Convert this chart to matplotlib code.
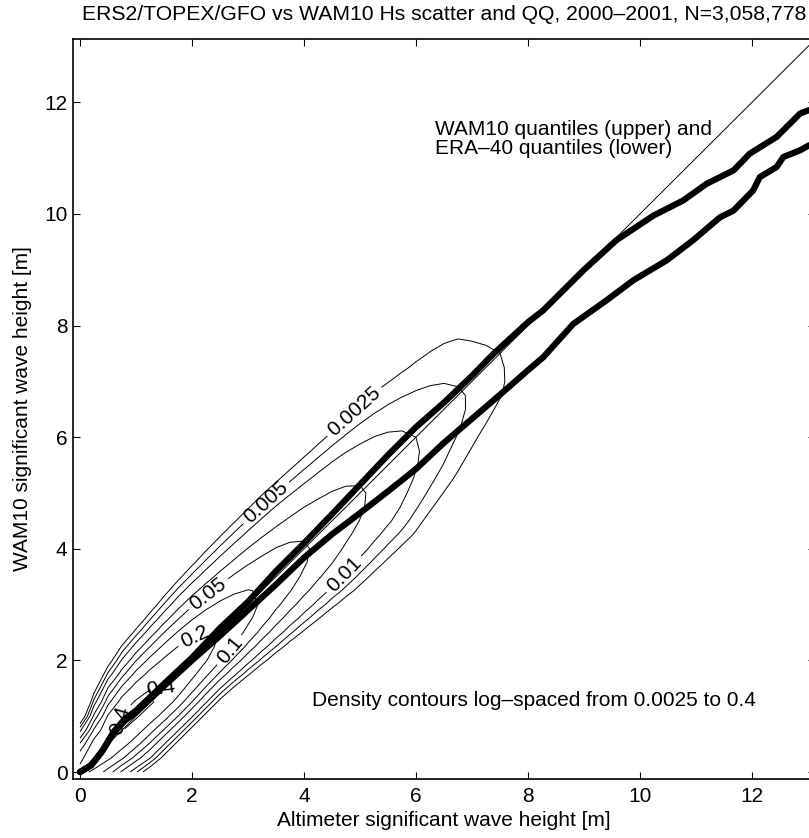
import numpy as np
import matplotlib
matplotlib.use('Agg')
import matplotlib.pyplot as plt

plt.rcParams['font.family'] = ['Liberation Sans', 'DejaVu Sans']
plt.rcParams['font.size'] = 15

# Quantile-quantile curves: altimeter Hs vs model Hs [m]
wam_alt = [0.0, 0.2, 0.4, 0.6, 0.8, 1.0, 1.5, 2.0, 2.5, 3.0, 3.5, 4.0, 4.5, 5.0, 5.5, 6.0,
           6.5, 7.0, 7.38, 8.0, 8.27, 8.5, 8.99, 9.58, 10.24, 10.77, 11.19, 11.67, 11.96,
           12.44, 12.86, 13.02]
wam_mod = [0.0, 0.12, 0.38, 0.72, 0.95, 1.1, 1.58, 2.05, 2.58, 3.05, 3.6, 4.1, 4.62, 5.15,
           5.68, 6.18, 6.62, 7.1, 7.49, 8.06, 8.27, 8.5, 8.99, 9.53, 9.97, 10.24, 10.54,
           10.78, 11.08, 11.38, 11.80, 11.86]

era_alt = [0.0, 0.2, 0.4, 0.6, 0.8, 1.0, 1.5, 2.0, 2.5, 3.0, 3.5, 4.0, 4.5, 5.0, 5.5, 6.0,
           6.5, 7.0, 7.5, 8.0, 8.27, 8.81, 9.40, 9.88, 10.48, 10.95, 11.43, 11.67, 12.02,
           12.14, 12.44, 12.56, 12.86, 13.02]
era_mod = [0.0, 0.12, 0.38, 0.70, 0.92, 1.07, 1.54, 2.0, 2.44, 2.9, 3.36, 3.84, 4.26, 4.64,
           5.03, 5.43, 5.9, 6.33, 6.76, 7.2, 7.43, 8.03, 8.45, 8.81, 9.17, 9.53, 9.94,
           10.06, 10.42, 10.66, 10.84, 11.02, 11.14, 11.23]

# Joint density along the diagonal: u = mean Hs, v = model - altimeter
ridge_u = [0.0, 0.25, 0.5, 0.75, 1.0, 1.25, 1.5, 2.0, 2.5, 3.2, 4.1, 5.1, 6.0, 6.85,
           7.5, 8.5]
ridge_peak = [0.25, 0.33, 0.4, 0.44, 0.46, 0.45, 0.41, 0.3, 0.2, 0.1, 0.05, 0.025, 0.01,
              0.005, 0.0025, 0.0012]
ridge_center = [0.0, 0.05, 0.1, 0.15, 0.15, 0.1, 0.05, 0.05, 0.05, 0.05, 0.05, 0.05,
                0.05, 0.0, 0.0, 0.0]
edge_upper = [0.6, 0.8, 0.9, 1.1, 1.3, 1.42, 1.52, 1.6, 1.68, 1.72, 1.72, 1.62, 1.55,
              1.3, 0.95, 0.7]
edge_lower = [-0.7, -0.95, -1.1, -1.2, -1.2, -1.2, -1.2, -1.2, -1.3, -1.45, -1.65,
              -1.7, -1.4, -0.95, -0.6, -0.5]

levels = [0.0025, 0.005, 0.01, 0.025, 0.05, 0.1, 0.2, 0.4]
label_spots = [(0.0025, (4.88, 6.48)), (0.005, (3.34, 4.81)), (0.01, (4.64, 3.61)),
               (0.05, (2.38, 3.07)), (0.2, (2.09, 2.36)), (0.1, (2.62, 2.23)),
               (0.4, (0.75, 0.92)), (0.4, (1.43, 1.42))]

# log-density on 0.25 m bins
g = np.arange(0, 13.01, 0.25)
X, Y = np.meshgrid(g, g)
U = (X + Y) / 2
V = Y - X
lp = np.interp(U, ridge_u, np.log(ridge_peak))
c = np.interp(U, ridge_u, ridge_center)
eu = np.interp(U, ridge_u, edge_upper)
el = np.interp(U, ridge_u, edge_lower)
beta = np.maximum(lp - np.log(levels[0]), 0.3)
d = V - c
r = np.where(d >= 0, d / (eu - c), d / (el - c)) ** 2
logdens = (lp - beta * r) / np.log(10)

fig = plt.figure(figsize=(8.09, 8.38), dpi=100)
ax = fig.add_axes([73 / 809, 59 / 838, 742 / 809, 739.5 / 838])

for lev in levels:
    cs = ax.contour(X, Y, logdens, levels=[np.log10(lev)], colors='k',
                    linewidths=0.7, linestyles='solid')
    spots = [p for l, p in label_spots if l == lev]
    if spots:
        ax.clabel(cs, manual=spots, inline=True, fontsize=15,
                  fmt=lambda v: f'{10 ** v:g}', colors='k')

ax.plot([0, 13.2], [0, 13.2], color='k', lw=0.7)
ax.plot(wam_alt, wam_mod, color='k', lw=4.5, solid_capstyle='round', zorder=5)
ax.plot(era_alt, era_mod, color='k', lw=4.5, solid_capstyle='round', zorder=5)

ax.text(6.34, 11.34, 'WAM10 quantiles (upper) and\nERA\u201340 quantiles (lower)',
        ha='left', va='center', linespacing=1.05)
ax.text(4.14, 1.28, 'Density contours log\u2013spaced from 0.0025 to 0.4',
        ha='left', va='center')

ax.set_xlim(-0.125, 13.125)
ax.set_ylim(-0.125, 13.125)
ax.set_xticks(range(0, 13, 2))
ax.set_yticks(range(0, 13, 2))
ax.tick_params(direction='in', length=5, width=0.8, top=True, right=True)
ax.tick_params(axis='x', pad=6)
ax.tick_params(axis='y', pad=4)
for s in ax.spines.values():
    s.set_linewidth(1.2)

fig.text(444 / 809, 1 - 15 / 838,
         'ERS2/TOPEX/GFO vs WAM10 Hs scatter and QQ, 2000\u20132001, N=3,058,778',
         ha='center', va='center', fontsize=15.2)
fig.text(444 / 809, 1 - 820 / 838, 'Altimeter significant wave height [m]',
         ha='center', va='center')
fig.text(23 / 809, 1 - 409 / 838, 'WAM10 significant wave height [m]',
         ha='center', va='center', rotation=90)

fig.savefig('out.png', dpi=100)
